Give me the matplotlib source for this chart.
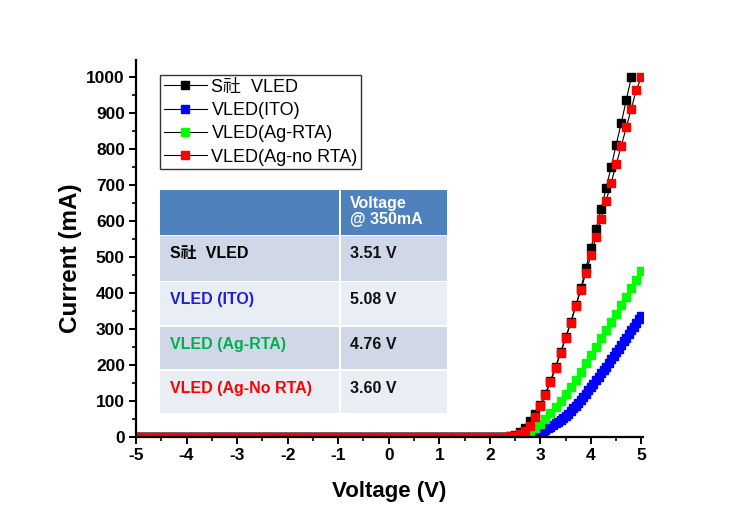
import numpy as np
import matplotlib
matplotlib.use('Agg')
import matplotlib.pyplot as plt
from matplotlib.patches import Rectangle
from matplotlib.ticker import MultipleLocator

plt.rcParams['font.family'] = ['Liberation Sans', 'Noto Sans CJK KR']
plt.rcParams['axes.unicode_minus'] = False

# ---- data ----
series_names = ['S社  VLED', 'VLED(ITO)', 'VLED(Ag-RTA)', 'VLED(Ag-no RTA)']
series_colors = ['#000000', '#0000FF', '#00FF00', '#FF0000']

# 0.1 V sweep, current in mA; below 2.4 V all curves sit at ~0 mA
v_black = np.round(np.arange(-5.0, 4.81, 0.1), 2)
i_black_on = [2, 5, 12, 25, 44, 63, 88, 120, 155, 195, 235, 276, 318, 365, 412,
              468, 524, 578, 632, 690, 750, 812, 872, 936, 1000]          # 2.4 .. 4.8 V

v_red = np.round(np.arange(-5.0, 5.01, 0.1), 2)
i_red_on = [1, 3, 8, 17, 30, 54, 84, 117, 152, 191, 232, 274, 316, 362, 408, 455,
            505, 555, 606, 655, 706, 757, 808, 860, 912, 965, 1000]      # 2.4 .. 5.0 V

v_green = np.round(np.arange(-5.0, 5.01, 0.1), 2)
i_green_on = [0, 1, 3, 7, 15, 25, 36, 50, 65, 82, 100, 119, 138, 158, 181, 204,
              227, 250, 273, 296, 319, 342, 366, 389, 412, 436, 460]     # 2.4 .. 5.0 V

# ITO sample was measured on a finer 0.05 V step
v_blue = np.round(np.arange(-5.0, 5.001, 0.05), 2)
i_blue_on = [1, 3, 5, 8, 12, 15, 19, 23, 27, 32, 37, 42, 47, 52, 58, 64, 71, 79,
             86, 94, 103, 111, 120, 129, 138, 147, 157, 166, 176, 186, 195, 205,
             215, 225, 235, 245, 255, 265, 275, 285, 296, 306, 316, 326, 336]  # 2.8 .. 5.0 V


def full_curve(v, on):
    off = np.zeros(len(v) - len(on))
    return np.concatenate([off, on])


curves = [
    (v_black, full_curve(v_black, i_black_on)),
    (v_blue, full_curve(v_blue, i_blue_on)),
    (v_green, full_curve(v_green, i_green_on)),
    (v_red, full_curve(v_red, i_red_on)),
]

# summary table
table_header = 'Voltage\n@ 350mA'
table_names = ['S社  VLED', 'VLED (ITO)', 'VLED (Ag-RTA)', 'VLED (Ag-No RTA)']
table_values = ['3.51 V', '5.08 V', '4.76 V', '3.60 V']
table_name_colors = ['#000000', '#1F1FD8', '#00B050', '#FF0000']

# ---- figure ----
W, H = 749, 524
fig = plt.figure(figsize=(W / 100, H / 100), dpi=100)
ax = fig.add_axes([136 / W, (H - 436.7) / H, (643 - 136) / W, (436.7 - 60) / H])

for (v, i), name, c in zip(curves, series_names, series_colors):
    ax.plot(v, i, '-s', color='k', lw=0.8, ms=5.2, mfc=c, mec=c, label=name)

ax.set_xlim(-5, 5.03)
ax.set_ylim(0, 1047)
ax.xaxis.set_major_locator(MultipleLocator(1))
ax.xaxis.set_minor_locator(MultipleLocator(0.5))
ax.yaxis.set_major_locator(MultipleLocator(100))
ax.yaxis.set_minor_locator(MultipleLocator(50))
ax.spines['top'].set_visible(False)
ax.spines['right'].set_visible(False)
for s in ('left', 'bottom'):
    ax.spines[s].set_linewidth(1.6)
ax.tick_params(which='major', direction='out', length=5, width=1.4, labelsize=12.5, pad=3)
ax.tick_params(which='minor', direction='out', length=3, width=1.2)
for lab in ax.get_xticklabels() + ax.get_yticklabels():
    lab.set_fontweight('bold')

fig.text(389 / W, 1 - 491 / H, 'Voltage (V)', ha='center', va='center',
         fontsize=16, fontweight='bold')
fig.text(70 / W, 1 - 258 / H, 'Current (mA)', ha='center', va='center',
         rotation=90, fontsize=17.5, fontweight='bold')

leg = ax.legend(loc='upper left', bbox_to_anchor=(160 / W, 1 - 75 / H),
                bbox_transform=fig.transFigure, fontsize=13, frameon=True,
                fancybox=False, borderaxespad=0, borderpad=0.2,
                handlelength=2.4, handletextpad=0.25, labelspacing=0.35,
                numpoints=1)
leg.get_frame().set_edgecolor('k')
leg.get_frame().set_linewidth(1.0)

# ---- table drawn in pixel units ----
tx0, ty0, tx1, ty1 = 159.5, 189.7, 446.7, 413.0
tab = fig.add_axes([tx0 / W, 1 - ty1 / H, (tx1 - tx0) / W, (ty1 - ty0) / H])
tab.set_xlim(0, tx1 - tx0)
tab.set_ylim(ty1 - ty0, 0)
tab.axis('off')

col_split = 340 - tx0
row_tops = [0, 46.8, 92.5, 137.5, 181.5]
row_bots = [45.0, 91.3, 135.5, 179.6, ty1 - ty0]
fills = ['#4F81BD', '#D0D8E8', '#E9EDF4', '#D0D8E8', '#E9EDF4']
for r, (top, bot, fc) in enumerate(zip(row_tops, row_bots, fills)):
    tab.add_patch(Rectangle((0, top), col_split - 1, bot - top, fc=fc, ec='none'))
    tab.add_patch(Rectangle((col_split + 1, top), tx1 - tx0 - col_split - 1, bot - top,
                            fc=fc, ec='none'))

tab.text(col_split + 10, 6.5, table_header, color='white', fontsize=11.5,
         fontweight='bold', ha='left', va='top', linespacing=1.1)
for k, (nm, val, nc) in enumerate(zip(table_names, table_values, table_name_colors)):
    y = row_tops[k + 1] + 21.5
    tab.text(10.5, y, nm, color=nc, fontsize=11.5, fontweight='bold',
             ha='left', va='baseline')
    tab.text(col_split + 10, y, val, color='#111111', fontsize=11.5,
             fontweight='bold', ha='left', va='baseline')

fig.savefig('out.png', dpi=100)
